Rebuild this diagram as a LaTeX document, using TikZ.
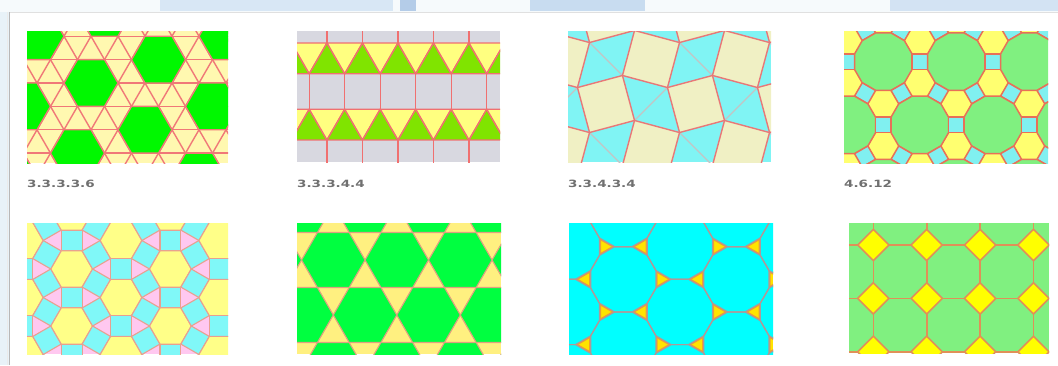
\documentclass[tikz,border=0pt]{standalone}
\usepackage{fontspec}
\setmainfont{DejaVu Sans}
\usetikzlibrary{calc}
\definecolor{bgblue}{HTML}{E8F2F8}
\definecolor{topblue}{HTML}{C8DCF0}
\definecolor{topblue2}{HTML}{B4CCE8}
\definecolor{panelline}{HTML}{B8B8B8}
\definecolor{lblgray}{HTML}{707070}
\definecolor{gA}{HTML}{00F800}
\definecolor{yA}{HTML}{FFF8B0}
\definecolor{rA}{HTML}{F07878}
\definecolor{grB}{HTML}{D8D8E0}
\definecolor{gB}{HTML}{80E400}
\definecolor{yB}{HTML}{FFFF80}
\definecolor{rB}{HTML}{F07070}
\definecolor{beC}{HTML}{F0F0C4}
\definecolor{cyC}{HTML}{80F4F4}
\definecolor{rC}{HTML}{E87878}
\definecolor{gyC}{HTML}{C4C4C4}
\definecolor{gD}{HTML}{80F080}
\definecolor{yD}{HTML}{FFFF70}
\definecolor{cD}{HTML}{80F0F0}
\definecolor{rD}{HTML}{E87058}
\definecolor{yE}{HTML}{FFFF88}
\definecolor{cE}{HTML}{80F8F8}
\definecolor{pE}{HTML}{FFC8F0}
\definecolor{rE}{HTML}{E8A090}
\definecolor{gF}{HTML}{00FF40}
\definecolor{yF}{HTML}{FFF080}
\definecolor{rF}{HTML}{E0A080}
\definecolor{cG}{HTML}{00FFFF}
\definecolor{yG}{HTML}{FFE400}
\definecolor{oG}{HTML}{F0A030}
\definecolor{gyG}{HTML}{B09898}
\definecolor{gH}{HTML}{80F080}
\definecolor{yH}{HTML}{FFFF00}
\definecolor{rH}{HTML}{E09058}
\newcommand\rpoly[6]{\pgfmathtruncatemacro\rpn{#6-1}%
  \path[#1,shift={({#2},{#3})}] ({#5}:{#4}) \foreach \k in {1,...,\rpn}{ -- ({#5+\k*360/#6}:{#4})} -- cycle;}
\tikzset{
  lbl/.style={anchor=base west,inner sep=0pt,text=lblgray,font=\fontsize{10}{12}\selectfont\bfseries},
  lA/.style={draw=rA,line width=1.4pt},
  hexA/.style={fill=gA,draw=rA,line width=1.4pt,line join=round},
  lB/.style={draw=rB,line width=1.4pt},
  triBg/.style={fill=gB,draw=rB,line width=1.4pt,line join=round},
  triBy/.style={fill=yB,draw=rB,line width=1.4pt,line join=round},
  linkC/.style={draw=gyC,line width=1.3pt},
  sqC/.style={fill=beC,draw=rC,line width=1.4pt,line join=round},
  dodD/.style={fill=gD,draw=rD,line width=1.5pt,line join=round},
  sqD/.style={fill=cD,draw=rD,line width=1.5pt,line join=round},
  hexE/.style={fill=yE,draw=rE,line width=1.1pt,line join=round},
  sqE/.style={fill=cE,draw=rE,line width=1.1pt,line join=round},
  hexF/.style={fill=gF,draw=rF,line width=1.1pt,line join=round},
  dodGo/.style={draw=oG,line width=3.2pt,line join=round},
  dodGf/.style={fill=cG},
  dodGg/.style={draw=gyG,line width=1.2pt,line join=round},
  lH/.style={draw=rH,line width=1.6pt},
  diaH/.style={fill=yH,draw=rH,line width=1.6pt,line join=round},
}
\begin{document}
\begin{tikzpicture}[x=1pt,y=-1pt]
\useasboundingbox (0,0) rectangle (1058,365);
% background and panel
\fill[bgblue] (0,0) rectangle (1058,365);
\fill[white!60!bgblue] (0,0) rectangle (1058,12);
\fill[topblue!70!white] (160,0) rectangle (393,11);
\fill[topblue2] (400,0) rectangle (416,11);
\fill[topblue] (530,0) rectangle (645,11);
\fill[topblue!80!white] (890,0) rectangle (1058,11);
\fill[white] (10,12) rectangle (1058,365);
\draw[panelline,line width=1.2pt] (9.6,12) -- (9.6,365);
\draw[black!12,line width=0.8pt] (10,12.4) -- (1058,12.4);
\draw[black!8,line width=1.5pt] (7.5,12) -- (7.5,365);

% ---------- 3.3.3.3.6 ----------
\begin{scope}[shift={(27,31)}]
\clip (0,0) rectangle (201,132);
\fill[yA] (0,0) rectangle (201,132);
\foreach \j in {-3,...,5} \draw[lA] (-20,{52+23.383*\j}) -- (230,{52+23.383*\j});
\foreach \i in {-12,...,12} {
  \draw[lA] ({64+27*\i-108},{52-187.06}) -- ({64+27*\i+108},{52+187.06});
  \draw[lA] ({64+27*\i-108},{52+187.06}) -- ({64+27*\i+108},{52-187.06});
}
\foreach \m in {-3,...,3} \foreach \n in {-3,...,3}
  \rpoly{hexA}{64+67.5*\m+54*\n}{52-23.383*\m+46.766*\n}{27}{0}{6};
\end{scope}
\node[lbl] (lab1) at (27,187) {\scalebox{1.35}[1]{3.3.3.3.6}};

% ---------- 3.3.3.4.4 ----------
\begin{scope}[shift={(297,31)}]
\clip (0,0) rectangle (203,131);
\fill[grB] (0,0) rectangle (203,131);
\foreach \k in {-2,...,7} {
  \draw[lB] ({30+35.5*\k},-5) -- ({30+35.5*\k},12);
  \draw[lB] ({12.25+35.5*\k},42.74) -- ({12.25+35.5*\k},78.24);
  \draw[lB] ({30+35.5*\k},108.98) -- ({30+35.5*\k},140);
  \path[triBg] ({30+35.5*\k},12) -- ({12.25+35.5*\k},42.74) -- ({47.75+35.5*\k},42.74) -- cycle;
  \path[triBy] ({30+35.5*\k},12) -- ({65.5+35.5*\k},12) -- ({47.75+35.5*\k},42.74) -- cycle;
  \path[triBg] ({12.25+35.5*\k},78.24) -- ({-5.5+35.5*\k},108.98) -- ({30+35.5*\k},108.98) -- cycle;
  \path[triBy] ({12.25+35.5*\k},78.24) -- ({47.75+35.5*\k},78.24) -- ({30+35.5*\k},108.98) -- cycle;
}
\end{scope}
\node[lbl] (lab2) at (297,187) {\scalebox{1.35}[1]{3.3.3.4.4}};

% ---------- 3.3.4.3.4 ----------
\begin{scope}[shift={(568,31)}]
\clip (0,0) rectangle (203,131);
\fill[cyC] (0,0) rectangle (203,131);
\foreach \m in {-2,...,2} \foreach \n in {-2,...,1} {
  \draw[linkC] ({38+90*\m+32.94*cos(30)},{73+90*\n+32.94*sin(30)}) -- ({128+90*\m+32.94*cos(210)},{73+90*\n+32.94*sin(210)});
  \draw[linkC] ({38+90*\m+32.94*cos(120)},{73+90*\n+32.94*sin(120)}) -- ({38+90*\m+32.94*cos(300)},{163+90*\n+32.94*sin(300)});
}
\foreach \m in {-1,...,2} \foreach \n in {-1,...,2} {
  \rpoly{sqC}{38+90*\m}{73+90*\n}{32.94}{30}{4};
  \rpoly{sqC}{83+90*\m}{28+90*\n}{32.94}{60}{4};
}
\end{scope}
\node[lbl] (lab3) at (568,187) {\scalebox{1.35}[1]{3.3.4.3.4}};

% ---------- 4.6.12 ----------
\begin{scope}[shift={(844,31)}]
\clip (0,0) rectangle (204,132);
\fill[yD] (0,0) rectangle (204,132);
\foreach \j in {-1,...,3} \foreach \i in {-2,...,3} {
  \pgfmathsetmacro\cx{39.3+73*\i+36.5*mod(\j+2,2)}
  \pgfmathsetmacro\cy{30.7+63.22*\j}
  \rpoly{dodD}{\cx}{\cy}{29.81}{15}{12};
  \foreach \q in {0,60,120} \rpoly{sqD}{\cx+36.5*cos(\q)}{\cy+36.5*sin(\q)}{10.91}{\q+45}{4};
}
\end{scope}
\node[lbl] (lab4) at (844,187) {\scalebox{1.35}[1]{4.6.12}};

% ---------- 3.4.6.4 ----------
\begin{scope}[shift={(27,223)}]
\clip (0,0) rectangle (201,131);
\fill[pE] (0,0) rectangle (201,131);
\foreach \i in {-1,...,4} \foreach \j in {-4,...,3} {
  \pgfmathsetmacro\cx{44.7+49.36*\i}
  \pgfmathsetmacro\cy{46+28.5*\i+57*\j}
  \rpoly{hexE}{\cx}{\cy}{20.86}{0}{6};
  \foreach \q in {90,30,-30} \rpoly{sqE}{\cx+28.5*cos(\q)}{\cy+28.5*sin(\q)}{14.75}{\q+45}{4};
}
\end{scope}

% ---------- 3.6.3.6 ----------
\begin{scope}[shift={(297,223)}]
\clip (0,0) rectangle (204,131);
\fill[yF] (0,0) rectangle (204,131);
\foreach \j in {-1,...,3} \foreach \i in {-1,...,4} {
  \pgfmathsetmacro\cx{36.3+63.5*\i+31.75*mod(\j+2,2)}
  \pgfmathsetmacro\cy{37+55*\j}
  \rpoly{hexF}{\cx}{\cy}{31.75}{0}{6};
}
\end{scope}

% ---------- 3.12.12 ----------
\begin{scope}[shift={(569,223)}]
\clip (0,0) rectangle (204,131);
\fill[yG] (0,0) rectangle (204,131);
\foreach \s in {dodGo,dodGf,dodGg}
 \foreach \i in {-1,...,4} \foreach \j in {-3,...,3}
  \rpoly{\s}{54.3+56.55*\i}{56.3+32.65*\i+65.3*\j}{33.8}{15}{12};
\end{scope}

% ---------- 4.8.8 ----------
\begin{scope}[shift={(849,223)}]
\clip (0,0) rectangle (200,130);
\fill[gH] (0,0) rectangle (200,130);
\foreach \i in {-1,...,4} \draw[lH] ({24.3+53.4*\i},-5) -- ({24.3+53.4*\i},140);
\foreach \j in {-1,...,3} \draw[lH] (-5,{22+53.4*\j}) -- (210,{22+53.4*\j});
\foreach \i in {-1,...,4} \foreach \j in {-1,...,3}
  \rpoly{diaH}{24.3+53.4*\i}{22+53.4*\j}{15.65}{0}{4};
\end{scope}
\end{tikzpicture}
\end{document}
